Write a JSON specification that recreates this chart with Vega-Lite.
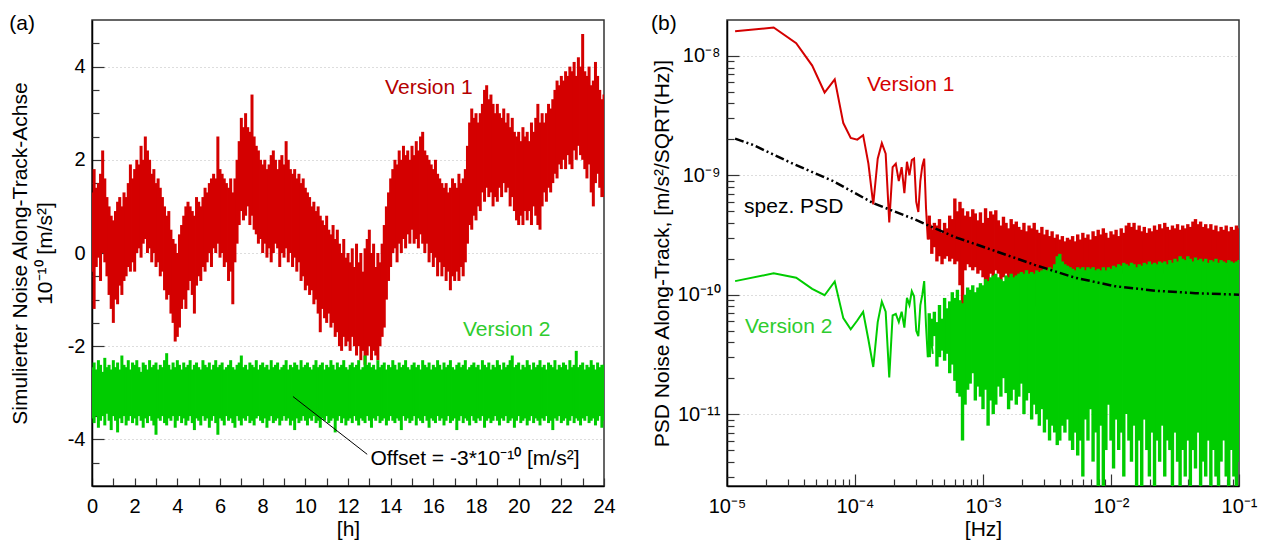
{
"$schema":"https://vega.github.io/schema/vega-lite/v6.json",
"background":"white",
"padding":{"left":8,"top":12,"right":0,"bottom":0},
"spacing":34,
"config":{
 "font":"Liberation Sans",
 "view":{"stroke":"#333","strokeWidth":1.5},
 "axis":{"labelFont":"Liberation Sans","labelFontSize":20,"labelColor":"black","titleFont":"Liberation Sans","titleFontSize":21,"titleFontWeight":"normal","titleColor":"black","domainColor":"black","domainWidth":1.5,"tickColor":"#333","tickWidth":1.2,"gridColor":"#bbb","gridDash":[1,3]},
 "title":{"anchor":"start","frame":"bounds","offset":-14,"fontSize":21,"fontWeight":"normal","font":"Liberation Sans","color":"black"}
},
"datasets":{
"ts":[
{"t":0,"rlo":-0.4,"rhi":1.3,"glo":-3.55,"ghi":-2.45},
{"t":0.1,"rlo":-1.2,"rhi":1.8,"glo":-3.65,"ghi":-2.35},
{"t":0.2,"rlo":-0.3,"rhi":1.4,"glo":-3.5,"ghi":-2.5},
{"t":0.3,"rlo":-0.1,"rhi":1.5,"glo":-3.75,"ghi":-2.3},
{"t":0.4,"rlo":-0.6,"rhi":1.7,"glo":-3.6,"ghi":-2.4},
{"t":0.5,"rlo":0.0,"rhi":2.2,"glo":-3.5,"ghi":-2.55},
{"t":0.6,"rlo":-0.2,"rhi":1.6,"glo":-3.7,"ghi":-2.25},
{"t":0.7,"rlo":-0.5,"rhi":1.2,"glo":-3.45,"ghi":-2.45},
{"t":0.8,"rlo":-0.9,"rhi":1.0,"glo":-3.6,"ghi":-2.4},
{"t":0.9,"rlo":-1.2,"rhi":0.8,"glo":-3.8,"ghi":-2.5},
{"t":1.0,"rlo":-1.5,"rhi":0.7,"glo":-3.5,"ghi":-2.3},
{"t":1.1,"rlo":-1.0,"rhi":0.9,"glo":-3.6,"ghi":-2.45},
{"t":1.2,"rlo":-1.1,"rhi":1.1,"glo":-3.85,"ghi":-2.35},
{"t":1.3,"rlo":-0.7,"rhi":1.2,"glo":-3.55,"ghi":-2.5},
{"t":1.4,"rlo":-0.9,"rhi":1.0,"glo":-3.65,"ghi":-2.2},
{"t":1.5,"rlo":-0.6,"rhi":1.3,"glo":-3.5,"ghi":-2.4},
{"t":1.6,"rlo":-0.5,"rhi":1.2,"glo":-3.7,"ghi":-2.45},
{"t":1.7,"rlo":-0.3,"rhi":1.5,"glo":-3.6,"ghi":-2.3},
{"t":1.8,"rlo":-0.4,"rhi":1.9,"glo":-3.5,"ghi":-2.5},
{"t":1.9,"rlo":-0.2,"rhi":1.6,"glo":-3.65,"ghi":-2.35},
{"t":2.0,"rlo":-0.4,"rhi":1.8,"glo":-3.55,"ghi":-2.4},
{"t":2.1,"rlo":0.0,"rhi":2.0,"glo":-3.7,"ghi":-2.3},
{"t":2.2,"rlo":0.1,"rhi":1.9,"glo":-3.5,"ghi":-2.45},
{"t":2.3,"rlo":-0.1,"rhi":2.3,"glo":-3.6,"ghi":-2.55},
{"t":2.4,"rlo":0.2,"rhi":2.0,"glo":-3.75,"ghi":-2.35},
{"t":2.5,"rlo":0.3,"rhi":2.5,"glo":-3.55,"ghi":-2.4},
{"t":2.6,"rlo":0.0,"rhi":2.2,"glo":-3.65,"ghi":-2.5},
{"t":2.7,"rlo":0.1,"rhi":2.0,"glo":-3.5,"ghi":-2.3},
{"t":2.8,"rlo":-0.2,"rhi":1.7,"glo":-3.6,"ghi":-2.45},
{"t":2.9,"rlo":0.0,"rhi":1.8,"glo":-3.7,"ghi":-2.4},
{"t":3.0,"rlo":-0.3,"rhi":1.5,"glo":-3.9,"ghi":-2.35},
{"t":3.1,"rlo":-0.2,"rhi":1.6,"glo":-3.55,"ghi":-2.5},
{"t":3.2,"rlo":-0.5,"rhi":1.4,"glo":-3.6,"ghi":-2.4},
{"t":3.3,"rlo":-0.4,"rhi":1.2,"glo":-3.5,"ghi":-2.45},
{"t":3.4,"rlo":-0.8,"rhi":1.0,"glo":-3.65,"ghi":-2.3},
{"t":3.5,"rlo":-1.0,"rhi":0.8,"glo":-3.7,"ghi":-2.15},
{"t":3.6,"rlo":-0.9,"rhi":0.9,"glo":-3.55,"ghi":-2.4},
{"t":3.7,"rlo":-1.3,"rhi":0.5,"glo":-3.6,"ghi":-2.5},
{"t":3.8,"rlo":-1.5,"rhi":0.3,"glo":-3.5,"ghi":-2.35},
{"t":3.9,"rlo":-1.9,"rhi":0.2,"glo":-3.75,"ghi":-2.45},
{"t":4.0,"rlo":-1.8,"rhi":0.0,"glo":-3.6,"ghi":-2.3},
{"t":4.1,"rlo":-1.6,"rhi":0.4,"glo":-3.5,"ghi":-2.4},
{"t":4.2,"rlo":-1.2,"rhi":0.6,"glo":-3.65,"ghi":-2.5},
{"t":4.3,"rlo":-1.0,"rhi":0.8,"glo":-3.55,"ghi":-2.35},
{"t":4.4,"rlo":-1.2,"rhi":1.0,"glo":-3.7,"ghi":-2.45},
{"t":4.5,"rlo":-0.8,"rhi":1.1,"glo":-3.6,"ghi":-2.4},
{"t":4.6,"rlo":-0.6,"rhi":1.0,"glo":-3.5,"ghi":-2.3},
{"t":4.7,"rlo":-0.9,"rhi":0.9,"glo":-3.65,"ghi":-2.5},
{"t":4.8,"rlo":-1.3,"rhi":0.8,"glo":-3.8,"ghi":-2.4},
{"t":4.9,"rlo":-0.7,"rhi":1.2,"glo":-3.55,"ghi":-2.35},
{"t":5.0,"rlo":-0.5,"rhi":1.1,"glo":-3.6,"ghi":-2.45},
{"t":5.1,"rlo":-0.6,"rhi":1.0,"glo":-3.7,"ghi":-2.5},
{"t":5.2,"rlo":-0.3,"rhi":1.2,"glo":-3.5,"ghi":-2.3},
{"t":5.3,"rlo":-0.4,"rhi":1.4,"glo":-3.6,"ghi":-2.4},
{"t":5.4,"rlo":-0.2,"rhi":1.3,"glo":-3.55,"ghi":-2.45},
{"t":5.5,"rlo":0.0,"rhi":1.5,"glo":-3.75,"ghi":-2.35},
{"t":5.6,"rlo":-0.3,"rhi":1.6,"glo":-3.6,"ghi":-2.5},
{"t":5.7,"rlo":0.1,"rhi":1.7,"glo":-3.5,"ghi":-2.4},
{"t":5.8,"rlo":0.0,"rhi":1.6,"glo":-3.65,"ghi":-2.3},
{"t":5.9,"rlo":0.2,"rhi":2.5,"glo":-3.9,"ghi":-2.45},
{"t":6.0,"rlo":-0.1,"rhi":1.8,"glo":-3.55,"ghi":-2.4},
{"t":6.1,"rlo":0.0,"rhi":1.7,"glo":-3.6,"ghi":-2.35},
{"t":6.2,"rlo":-0.3,"rhi":1.6,"glo":-3.7,"ghi":-2.5},
{"t":6.3,"rlo":-0.2,"rhi":1.5,"glo":-3.5,"ghi":-2.45},
{"t":6.4,"rlo":-0.6,"rhi":1.4,"glo":-3.6,"ghi":-2.4},
{"t":6.5,"rlo":-0.4,"rhi":1.6,"glo":-3.55,"ghi":-2.3},
{"t":6.6,"rlo":-1.1,"rhi":1.3,"glo":-3.65,"ghi":-2.45},
{"t":6.7,"rlo":-0.2,"rhi":1.6,"glo":-3.75,"ghi":-2.5},
{"t":6.8,"rlo":0.2,"rhi":2.0,"glo":-3.5,"ghi":-2.4},
{"t":6.9,"rlo":0.6,"rhi":2.4,"glo":-3.6,"ghi":-2.35},
{"t":7.0,"rlo":0.9,"rhi":2.9,"glo":-3.7,"ghi":-2.2},
{"t":7.1,"rlo":0.7,"rhi":2.7,"glo":-3.55,"ghi":-2.45},
{"t":7.2,"rlo":0.8,"rhi":3.0,"glo":-3.6,"ghi":-2.4},
{"t":7.3,"rlo":1.0,"rhi":2.7,"glo":-3.5,"ghi":-2.5},
{"t":7.4,"rlo":0.6,"rhi":2.6,"glo":-3.65,"ghi":-2.35},
{"t":7.5,"rlo":0.8,"rhi":3.4,"glo":-3.6,"ghi":-2.4},
{"t":7.6,"rlo":0.5,"rhi":2.5,"glo":-3.7,"ghi":-2.45},
{"t":7.7,"rlo":0.4,"rhi":2.3,"glo":-3.55,"ghi":-2.3},
{"t":7.8,"rlo":0.2,"rhi":2.2,"glo":-3.5,"ghi":-2.5},
{"t":7.9,"rlo":0.3,"rhi":2.0,"glo":-3.6,"ghi":-2.4},
{"t":8.0,"rlo":0.0,"rhi":1.9,"glo":-3.65,"ghi":-2.35},
{"t":8.1,"rlo":0.2,"rhi":2.0,"glo":-3.55,"ghi":-2.45},
{"t":8.2,"rlo":-0.1,"rhi":1.8,"glo":-3.75,"ghi":-2.4},
{"t":8.3,"rlo":0.1,"rhi":1.9,"glo":-3.6,"ghi":-2.5},
{"t":8.4,"rlo":-0.2,"rhi":2.1,"glo":-3.5,"ghi":-2.3},
{"t":8.5,"rlo":0.0,"rhi":2.2,"glo":-3.65,"ghi":-2.45},
{"t":8.6,"rlo":0.2,"rhi":2.0,"glo":-3.6,"ghi":-2.4},
{"t":8.7,"rlo":0.1,"rhi":1.8,"glo":-3.55,"ghi":-2.35},
{"t":8.8,"rlo":-0.3,"rhi":2.0,"glo":-3.7,"ghi":-2.5},
{"t":8.9,"rlo":0.0,"rhi":2.1,"glo":-3.6,"ghi":-2.45},
{"t":9.0,"rlo":-0.1,"rhi":1.9,"glo":-3.5,"ghi":-2.4},
{"t":9.1,"rlo":0.1,"rhi":2.4,"glo":-3.6,"ghi":-2.3},
{"t":9.2,"rlo":-0.2,"rhi":2.0,"glo":-3.55,"ghi":-2.5},
{"t":9.3,"rlo":0.0,"rhi":1.8,"glo":-3.7,"ghi":-2.4},
{"t":9.4,"rlo":-0.3,"rhi":1.7,"glo":-3.6,"ghi":-2.45},
{"t":9.5,"rlo":-0.1,"rhi":1.8,"glo":-3.8,"ghi":-2.35},
{"t":9.6,"rlo":-0.4,"rhi":1.6,"glo":-3.55,"ghi":-2.4},
{"t":9.7,"rlo":-0.2,"rhi":1.7,"glo":-3.65,"ghi":-2.5},
{"t":9.8,"rlo":-0.6,"rhi":1.5,"glo":-3.6,"ghi":-2.3},
{"t":9.9,"rlo":-0.5,"rhi":1.6,"glo":-3.5,"ghi":-2.45},
{"t":10.0,"rlo":-0.8,"rhi":1.4,"glo":-3.6,"ghi":-2.4},
{"t":10.1,"rlo":-0.7,"rhi":1.3,"glo":-3.7,"ghi":-2.35},
{"t":10.2,"rlo":-0.9,"rhi":1.2,"glo":-3.55,"ghi":-2.45},
{"t":10.3,"rlo":-0.8,"rhi":1.0,"glo":-3.6,"ghi":-2.5},
{"t":10.4,"rlo":-1.1,"rhi":1.1,"glo":-3.5,"ghi":-2.4},
{"t":10.5,"rlo":-1.0,"rhi":0.9,"glo":-3.65,"ghi":-2.3},
{"t":10.6,"rlo":-1.3,"rhi":1.0,"glo":-3.6,"ghi":-2.45},
{"t":10.7,"rlo":-1.7,"rhi":0.8,"glo":-3.75,"ghi":-2.4},
{"t":10.8,"rlo":-1.2,"rhi":0.7,"glo":-3.55,"ghi":-2.35},
{"t":10.9,"rlo":-1.4,"rhi":0.6,"glo":-3.6,"ghi":-2.5},
{"t":11.0,"rlo":-1.5,"rhi":0.8,"glo":-3.5,"ghi":-2.4},
{"t":11.1,"rlo":-1.3,"rhi":0.5,"glo":-3.65,"ghi":-2.45},
{"t":11.2,"rlo":-1.6,"rhi":0.4,"glo":-3.6,"ghi":-2.3},
{"t":11.3,"rlo":-1.5,"rhi":0.6,"glo":-3.55,"ghi":-2.4},
{"t":11.4,"rlo":-1.8,"rhi":0.3,"glo":-3.85,"ghi":-2.5},
{"t":11.5,"rlo":-1.7,"rhi":0.5,"glo":-3.6,"ghi":-2.35},
{"t":11.6,"rlo":-2.0,"rhi":0.2,"glo":-3.5,"ghi":-2.45},
{"t":11.7,"rlo":-2.1,"rhi":0.0,"glo":-3.65,"ghi":-2.4},
{"t":11.8,"rlo":-1.8,"rhi":0.3,"glo":-3.55,"ghi":-2.3},
{"t":11.9,"rlo":-2.0,"rhi":-0.1,"glo":-3.7,"ghi":-2.45},
{"t":12.0,"rlo":-1.9,"rhi":0.0,"glo":-3.6,"ghi":-2.5},
{"t":12.1,"rlo":-2.1,"rhi":-0.2,"glo":-3.55,"ghi":-2.4},
{"t":12.2,"rlo":-1.8,"rhi":0.1,"glo":-3.65,"ghi":-2.35},
{"t":12.3,"rlo":-2.0,"rhi":-0.3,"glo":-3.5,"ghi":-2.45},
{"t":12.4,"rlo":-2.2,"rhi":0.2,"glo":-3.6,"ghi":-2.4},
{"t":12.5,"rlo":-2.0,"rhi":-0.2,"glo":-3.7,"ghi":-2.3},
{"t":12.6,"rlo":-2.3,"rhi":0.0,"glo":-3.55,"ghi":-2.5},
{"t":12.7,"rlo":-2.1,"rhi":-0.4,"glo":-3.6,"ghi":-2.45},
{"t":12.8,"rlo":-2.4,"rhi":0.1,"glo":-3.65,"ghi":-2.2},
{"t":12.9,"rlo":-2.2,"rhi":0.3,"glo":-3.5,"ghi":-2.4},
{"t":13.0,"rlo":-2.0,"rhi":0.5,"glo":-3.6,"ghi":-2.35},
{"t":13.1,"rlo":-2.3,"rhi":0.0,"glo":-3.75,"ghi":-2.45},
{"t":13.2,"rlo":-2.1,"rhi":0.2,"glo":-3.55,"ghi":-2.4},
{"t":13.3,"rlo":-2.2,"rhi":-0.3,"glo":-3.6,"ghi":-2.5},
{"t":13.4,"rlo":-2.3,"rhi":0.0,"glo":-3.5,"ghi":-2.3},
{"t":13.5,"rlo":-2.0,"rhi":-0.2,"glo":-3.65,"ghi":-2.45},
{"t":13.6,"rlo":-1.8,"rhi":0.2,"glo":-3.6,"ghi":-2.4},
{"t":13.7,"rlo":-1.6,"rhi":0.6,"glo":-3.55,"ghi":-2.35},
{"t":13.8,"rlo":-1.0,"rhi":1.0,"glo":-3.7,"ghi":-2.5},
{"t":13.9,"rlo":-0.6,"rhi":1.3,"glo":-3.6,"ghi":-2.4},
{"t":14.0,"rlo":-0.3,"rhi":1.6,"glo":-3.5,"ghi":-2.45},
{"t":14.1,"rlo":0.0,"rhi":1.8,"glo":-3.6,"ghi":-2.3},
{"t":14.2,"rlo":0.1,"rhi":2.0,"glo":-3.65,"ghi":-2.4},
{"t":14.3,"rlo":-0.2,"rhi":1.9,"glo":-3.55,"ghi":-2.5},
{"t":14.4,"rlo":0.2,"rhi":2.2,"glo":-3.6,"ghi":-2.35},
{"t":14.5,"rlo":0.0,"rhi":2.0,"glo":-3.8,"ghi":-2.45},
{"t":14.6,"rlo":0.3,"rhi":2.3,"glo":-3.5,"ghi":-2.4},
{"t":14.7,"rlo":0.1,"rhi":2.1,"glo":-3.6,"ghi":-2.3},
{"t":14.8,"rlo":0.4,"rhi":2.2,"glo":-3.55,"ghi":-2.45},
{"t":14.9,"rlo":0.2,"rhi":2.0,"glo":-3.65,"ghi":-2.5},
{"t":15.0,"rlo":0.5,"rhi":2.3,"glo":-3.6,"ghi":-2.4},
{"t":15.1,"rlo":0.2,"rhi":2.1,"glo":-3.5,"ghi":-2.35},
{"t":15.2,"rlo":0.3,"rhi":2.4,"glo":-3.7,"ghi":-2.45},
{"t":15.3,"rlo":0.1,"rhi":2.2,"glo":-3.55,"ghi":-2.4},
{"t":15.4,"rlo":0.4,"rhi":2.5,"glo":-3.6,"ghi":-2.5},
{"t":15.5,"rlo":0.2,"rhi":2.6,"glo":-3.65,"ghi":-2.3},
{"t":15.6,"rlo":0.0,"rhi":2.2,"glo":-3.5,"ghi":-2.4},
{"t":15.7,"rlo":0.2,"rhi":2.1,"glo":-3.6,"ghi":-2.45},
{"t":15.8,"rlo":-0.2,"rhi":2.0,"glo":-3.75,"ghi":-2.35},
{"t":15.9,"rlo":0.0,"rhi":1.9,"glo":-3.55,"ghi":-2.5},
{"t":16.0,"rlo":-0.3,"rhi":1.8,"glo":-3.6,"ghi":-2.4},
{"t":16.1,"rlo":-0.1,"rhi":2.0,"glo":-3.65,"ghi":-2.45},
{"t":16.2,"rlo":-0.5,"rhi":1.7,"glo":-3.5,"ghi":-2.3},
{"t":16.3,"rlo":-0.2,"rhi":1.6,"glo":-3.6,"ghi":-2.4},
{"t":16.4,"rlo":-0.5,"rhi":1.5,"glo":-3.55,"ghi":-2.5},
{"t":16.5,"rlo":-0.3,"rhi":1.4,"glo":-3.7,"ghi":-2.35},
{"t":16.6,"rlo":-0.6,"rhi":1.5,"glo":-3.6,"ghi":-2.45},
{"t":16.7,"rlo":-0.4,"rhi":1.3,"glo":-3.5,"ghi":-2.4},
{"t":16.8,"rlo":-0.8,"rhi":1.4,"glo":-3.65,"ghi":-2.3},
{"t":16.9,"rlo":-0.5,"rhi":1.6,"glo":-3.6,"ghi":-2.45},
{"t":17.0,"rlo":-0.6,"rhi":1.5,"glo":-3.55,"ghi":-2.5},
{"t":17.1,"rlo":-0.4,"rhi":1.4,"glo":-3.8,"ghi":-2.4},
{"t":17.2,"rlo":-0.6,"rhi":1.7,"glo":-3.6,"ghi":-2.35},
{"t":17.3,"rlo":-0.3,"rhi":1.5,"glo":-3.5,"ghi":-2.45},
{"t":17.4,"rlo":-0.5,"rhi":1.6,"glo":-3.65,"ghi":-2.4},
{"t":17.5,"rlo":-0.2,"rhi":1.8,"glo":-3.55,"ghi":-2.3},
{"t":17.6,"rlo":0.2,"rhi":2.3,"glo":-3.6,"ghi":-2.5},
{"t":17.7,"rlo":0.6,"rhi":2.8,"glo":-3.7,"ghi":-2.45},
{"t":17.8,"rlo":0.5,"rhi":3.1,"glo":-3.5,"ghi":-2.4},
{"t":17.9,"rlo":0.8,"rhi":2.9,"glo":-3.6,"ghi":-2.35},
{"t":18.0,"rlo":0.7,"rhi":3.0,"glo":-3.65,"ghi":-2.45},
{"t":18.1,"rlo":1.0,"rhi":2.8,"glo":-3.55,"ghi":-2.4},
{"t":18.2,"rlo":0.9,"rhi":3.0,"glo":-3.6,"ghi":-2.5},
{"t":18.3,"rlo":1.3,"rhi":3.2,"glo":-3.5,"ghi":-2.3},
{"t":18.4,"rlo":1.1,"rhi":3.5,"glo":-3.75,"ghi":-2.4},
{"t":18.5,"rlo":1.4,"rhi":3.6,"glo":-3.6,"ghi":-2.45},
{"t":18.6,"rlo":1.2,"rhi":3.3,"glo":-3.55,"ghi":-2.35},
{"t":18.7,"rlo":1.3,"rhi":3.4,"glo":-3.65,"ghi":-2.5},
{"t":18.8,"rlo":1.0,"rhi":3.2,"glo":-3.6,"ghi":-2.4},
{"t":18.9,"rlo":1.2,"rhi":3.0,"glo":-3.5,"ghi":-2.45},
{"t":19.0,"rlo":1.1,"rhi":3.2,"glo":-3.6,"ghi":-2.3},
{"t":19.1,"rlo":1.4,"rhi":3.0,"glo":-3.7,"ghi":-2.4},
{"t":19.2,"rlo":1.2,"rhi":2.9,"glo":-3.55,"ghi":-2.5},
{"t":19.3,"rlo":1.5,"rhi":3.1,"glo":-3.6,"ghi":-2.35},
{"t":19.4,"rlo":1.3,"rhi":2.8,"glo":-3.5,"ghi":-2.45},
{"t":19.5,"rlo":1.4,"rhi":3.0,"glo":-3.65,"ghi":-2.4},
{"t":19.6,"rlo":1.0,"rhi":2.7,"glo":-3.6,"ghi":-2.3},
{"t":19.7,"rlo":1.2,"rhi":2.9,"glo":-3.55,"ghi":-2.2},
{"t":19.8,"rlo":0.9,"rhi":2.6,"glo":-3.75,"ghi":-2.45},
{"t":19.9,"rlo":0.7,"rhi":2.5,"glo":-3.6,"ghi":-2.4},
{"t":20.0,"rlo":0.6,"rhi":2.6,"glo":-3.5,"ghi":-2.35},
{"t":20.1,"rlo":0.8,"rhi":2.4,"glo":-3.65,"ghi":-2.5},
{"t":20.2,"rlo":0.6,"rhi":2.7,"glo":-3.6,"ghi":-2.4},
{"t":20.3,"rlo":0.9,"rhi":2.5,"glo":-3.55,"ghi":-2.45},
{"t":20.4,"rlo":0.7,"rhi":2.6,"glo":-3.7,"ghi":-2.3},
{"t":20.5,"rlo":0.9,"rhi":2.4,"glo":-3.6,"ghi":-2.4},
{"t":20.6,"rlo":0.6,"rhi":2.8,"glo":-3.5,"ghi":-2.5},
{"t":20.7,"rlo":1.0,"rhi":2.6,"glo":-3.65,"ghi":-2.35},
{"t":20.8,"rlo":0.8,"rhi":2.9,"glo":-3.55,"ghi":-2.45},
{"t":20.9,"rlo":0.6,"rhi":3.2,"glo":-3.6,"ghi":-2.4},
{"t":21.0,"rlo":0.5,"rhi":2.8,"glo":-3.7,"ghi":-2.3},
{"t":21.1,"rlo":1.0,"rhi":3.0,"glo":-3.55,"ghi":-2.45},
{"t":21.2,"rlo":1.3,"rhi":2.8,"glo":-3.6,"ghi":-2.4},
{"t":21.3,"rlo":1.1,"rhi":3.0,"glo":-3.5,"ghi":-2.5},
{"t":21.4,"rlo":1.4,"rhi":3.2,"glo":-3.65,"ghi":-2.35},
{"t":21.5,"rlo":1.3,"rhi":3.1,"glo":-3.6,"ghi":-2.4},
{"t":21.6,"rlo":1.5,"rhi":3.3,"glo":-3.8,"ghi":-2.45},
{"t":21.7,"rlo":1.7,"rhi":3.5,"glo":-3.55,"ghi":-2.3},
{"t":21.8,"rlo":1.6,"rhi":3.7,"glo":-3.6,"ghi":-2.5},
{"t":21.9,"rlo":1.9,"rhi":3.6,"glo":-3.5,"ghi":-2.4},
{"t":22.0,"rlo":1.8,"rhi":3.8,"glo":-3.65,"ghi":-2.45},
{"t":22.1,"rlo":2.0,"rhi":3.7,"glo":-3.6,"ghi":-2.35},
{"t":22.2,"rlo":1.8,"rhi":3.9,"glo":-3.55,"ghi":-2.4},
{"t":22.3,"rlo":2.1,"rhi":3.8,"glo":-3.7,"ghi":-2.5},
{"t":22.4,"rlo":1.9,"rhi":4.0,"glo":-3.6,"ghi":-2.3},
{"t":22.5,"rlo":1.8,"rhi":3.9,"glo":-3.5,"ghi":-2.45},
{"t":22.6,"rlo":2.2,"rhi":4.1,"glo":-3.65,"ghi":-2.4},
{"t":22.7,"rlo":2.0,"rhi":3.8,"glo":-3.55,"ghi":-2.1},
{"t":22.8,"rlo":2.3,"rhi":4.2,"glo":-3.6,"ghi":-2.45},
{"t":22.9,"rlo":2.1,"rhi":4.0,"glo":-3.7,"ghi":-2.4},
{"t":23.0,"rlo":2.0,"rhi":4.7,"glo":-3.55,"ghi":-2.35},
{"t":23.1,"rlo":1.8,"rhi":3.9,"glo":-3.6,"ghi":-2.5},
{"t":23.2,"rlo":1.6,"rhi":3.8,"glo":-3.5,"ghi":-2.4},
{"t":23.3,"rlo":1.9,"rhi":4.0,"glo":-3.65,"ghi":-2.45},
{"t":23.4,"rlo":1.3,"rhi":3.6,"glo":-3.6,"ghi":-2.3},
{"t":23.5,"rlo":1.0,"rhi":3.7,"glo":-3.55,"ghi":-2.4},
{"t":23.6,"rlo":1.5,"rhi":4.1,"glo":-3.7,"ghi":-2.5},
{"t":23.7,"rlo":1.7,"rhi":3.8,"glo":-3.6,"ghi":-2.35},
{"t":23.8,"rlo":1.4,"rhi":3.5,"glo":-3.5,"ghi":-2.45},
{"t":23.9,"rlo":1.2,"rhi":3.3,"glo":-3.75,"ghi":-2.4},
{"t":24.0,"rlo":1.2,"rhi":3.4,"glo":-3.6,"ghi":-2.4}
],
"psdlow":[
{"f":1.157e-5,"r":1.61e-8,"g":1.3e-10},
{"f":2.315e-5,"r":1.73e-8,"g":1.51e-10},
{"f":3.472e-5,"r":1.28e-8,"g":1.39e-10},
{"f":4.630e-5,"r":8.3e-9,"g":1.12e-10},
{"f":5.787e-5,"r":4.94e-9,"g":9.9e-11},
{"f":6.944e-5,"r":6.37e-9,"g":1.29e-10},
{"f":8.102e-5,"r":2.74e-9,"g":6.37e-11},
{"f":9.259e-5,"r":2.06e-9,"g":5.14e-11},
{"f":1.0417e-4,"r":1.99e-9,"g":6.08e-11},
{"f":1.1574e-4,"r":2.17e-9,"g":7.18e-11},
{"f":1.2731e-4,"r":1.25e-9,"g":4.2e-11},
{"f":1.3889e-4,"r":5.7e-10,"g":2.48e-11},
{"f":1.5046e-4,"r":1.38e-9,"g":5.9e-11},
{"f":1.6204e-4,"r":1.86e-9,"g":8.75e-11},
{"f":1.7361e-4,"r":1.52e-9,"g":7.2e-11},
{"f":1.8519e-4,"r":4.04e-10,"g":2.03e-11},
{"f":1.9676e-4,"r":1.17e-9,"g":6.7e-11},
{"f":2.0833e-4,"r":1.25e-9,"g":6.9e-11},
{"f":2.1991e-4,"r":8.95e-10,"g":5.9e-11},
{"f":2.3148e-4,"r":1.17e-9,"g":7.2e-11},
{"f":2.4306e-4,"r":7.1e-10,"g":5.3e-11},
{"f":2.5463e-4,"r":1.3e-9,"g":9.4e-11},
{"f":2.6620e-4,"r":1.0e-9,"g":8.2e-11},
{"f":2.7778e-4,"r":1.34e-9,"g":1.07e-10},
{"f":2.8935e-4,"r":1.38e-9,"g":9.7e-11},
{"f":3.0093e-4,"r":6.0e-10,"g":5.0e-11},
{"f":3.1250e-4,"r":4.93e-10,"g":4.5e-11},
{"f":3.2407e-4,"r":9.0e-10,"g":8.2e-11},
{"f":3.3565e-4,"r":1.2e-9,"g":1.0e-10},
{"f":3.4722e-4,"r":1.38e-9,"g":1.3e-10},
{"f":3.5880e-4,"r":5.3e-10,"g":5.5e-11},
{"f":3.7037e-4,"r":2.9e-10,"g":3.0e-11},
{"f":3.8194e-4,"r":4.0e-10,"g":4.7e-11},
{"f":3.9352e-4,"r":3.7e-10,"g":4.2e-11},
{"f":4.0509e-4,"r":2.9e-10,"g":3.2e-11}
],
"psddense":[
{"f":3.802e-4,"rlo":2.9e-10,"rhi":4.6e-10,"glo":3.0e-11,"ghi":7.0e-11},
{"f":3.981e-4,"rlo":2.2e-10,"rhi":3.5e-10,"glo":3.7e-11,"ghi":6.3e-11},
{"f":4.169e-4,"rlo":2.5e-10,"rhi":4.0e-10,"glo":4.5e-11,"ghi":7.2e-11},
{"f":4.365e-4,"rlo":1.9e-10,"rhi":3.8e-10,"glo":2.5e-11,"ghi":5.9e-11},
{"f":4.571e-4,"rlo":2.1e-10,"rhi":4.3e-10,"glo":3.0e-11,"ghi":8.2e-11},
{"f":4.786e-4,"rlo":1.8e-10,"rhi":3.3e-10,"glo":3.4e-11,"ghi":6.3e-11},
{"f":5.012e-4,"rlo":2.0e-10,"rhi":4.0e-10,"glo":2.8e-11,"ghi":9.4e-11},
{"f":5.248e-4,"rlo":2.1e-10,"rhi":3.6e-10,"glo":3.2e-11,"ghi":7.7e-11},
{"f":5.495e-4,"rlo":1.9e-10,"rhi":4.6e-10,"glo":2.2e-11,"ghi":8.8e-11},
{"f":5.754e-4,"rlo":2.0e-10,"rhi":4.3e-10,"glo":2.6e-11,"ghi":1.05e-10},
{"f":6.026e-4,"rlo":1.8e-10,"rhi":6.4e-10,"glo":1.9e-11,"ghi":9.4e-11},
{"f":6.310e-4,"rlo":1.9e-10,"rhi":5.0e-10,"glo":1.5e-11,"ghi":1.1e-10},
{"f":6.607e-4,"rlo":1.2e-10,"rhi":6.0e-10,"glo":1.4e-11,"ghi":9.0e-11},
{"f":6.918e-4,"rlo":8.0e-11,"rhi":5.3e-10,"glo":6.0e-12,"ghi":8.5e-11},
{"f":7.244e-4,"rlo":1.6e-10,"rhi":4.6e-10,"glo":1.2e-11,"ghi":1.0e-10},
{"f":7.586e-4,"rlo":1.8e-10,"rhi":5.0e-10,"glo":1.6e-11,"ghi":1.15e-10},
{"f":7.943e-4,"rlo":1.7e-10,"rhi":4.5e-10,"glo":1.8e-11,"ghi":1.1e-10},
{"f":8.318e-4,"rlo":1.6e-10,"rhi":5.2e-10,"glo":2.2e-11,"ghi":1.2e-10},
{"f":8.710e-4,"rlo":1.7e-10,"rhi":4.8e-10,"glo":1.3e-11,"ghi":1.05e-10},
{"f":9.120e-4,"rlo":1.5e-10,"rhi":4.2e-10,"glo":1.7e-11,"ghi":1.15e-10},
{"f":9.550e-4,"rlo":1.6e-10,"rhi":4.9e-10,"glo":1.4e-11,"ghi":1.25e-10},
{"f":1.000e-3,"rlo":1.4e-10,"rhi":4.0e-10,"glo":1.1e-11,"ghi":1.2e-10},
{"f":1.047e-3,"rlo":1.1e-10,"rhi":5.3e-10,"glo":1.6e-11,"ghi":1.35e-10},
{"f":1.096e-3,"rlo":5.0e-11,"rhi":4.4e-10,"glo":8.0e-12,"ghi":1.3e-10},
{"f":1.148e-3,"rlo":1.5e-10,"rhi":5.0e-10,"glo":1.3e-11,"ghi":1.4e-10},
{"f":1.202e-3,"rlo":1.4e-10,"rhi":4.7e-10,"glo":1.0e-11,"ghi":1.45e-10},
{"f":1.259e-3,"rlo":1.6e-10,"rhi":5.1e-10,"glo":1.2e-11,"ghi":1.5e-10},
{"f":1.318e-3,"rlo":1.5e-10,"rhi":4.2e-10,"glo":1.7e-11,"ghi":1.4e-10},
{"f":1.380e-3,"rlo":1.3e-10,"rhi":3.8e-10,"glo":1.4e-11,"ghi":1.35e-10},
{"f":1.445e-3,"rlo":1.4e-10,"rhi":4.5e-10,"glo":2.0e-11,"ghi":1.3e-10},
{"f":1.514e-3,"rlo":1.5e-10,"rhi":4.0e-10,"glo":1.5e-11,"ghi":1.45e-10},
{"f":1.585e-3,"rlo":1.3e-10,"rhi":3.6e-10,"glo":1.1e-11,"ghi":1.4e-10},
{"f":1.660e-3,"rlo":1.4e-10,"rhi":4.3e-10,"glo":1.3e-11,"ghi":1.5e-10},
{"f":1.738e-3,"rlo":1.2e-10,"rhi":3.9e-10,"glo":1.6e-11,"ghi":1.4e-10},
{"f":1.820e-3,"rlo":1.4e-10,"rhi":4.1e-10,"glo":1.2e-11,"ghi":1.45e-10},
{"f":1.905e-3,"rlo":1.3e-10,"rhi":3.7e-10,"glo":1.4e-11,"ghi":1.5e-10},
{"f":1.995e-3,"rlo":1.5e-10,"rhi":3.5e-10,"glo":1.8e-11,"ghi":1.55e-10},
{"f":2.089e-3,"rlo":1.3e-10,"rhi":4.0e-10,"glo":1.0e-11,"ghi":1.5e-10},
{"f":2.188e-3,"rlo":1.4e-10,"rhi":3.4e-10,"glo":1.3e-11,"ghi":1.6e-10},
{"f":2.291e-3,"rlo":1.3e-10,"rhi":3.8e-10,"glo":1.5e-11,"ghi":1.5e-10},
{"f":2.399e-3,"rlo":1.4e-10,"rhi":3.6e-10,"glo":9.0e-12,"ghi":1.55e-10},
{"f":2.512e-3,"rlo":8.0e-11,"rhi":4.0e-10,"glo":1.2e-11,"ghi":1.5e-10},
{"f":2.630e-3,"rlo":1.4e-10,"rhi":3.5e-10,"glo":1.0e-11,"ghi":1.6e-10},
{"f":2.754e-3,"rlo":1.3e-10,"rhi":3.3e-10,"glo":8.0e-12,"ghi":1.55e-10},
{"f":2.884e-3,"rlo":1.5e-10,"rhi":3.7e-10,"glo":1.1e-11,"ghi":1.6e-10},
{"f":3.020e-3,"rlo":1.4e-10,"rhi":3.2e-10,"glo":7.0e-12,"ghi":1.65e-10},
{"f":3.162e-3,"rlo":1.5e-10,"rhi":3.5e-10,"glo":9.0e-12,"ghi":1.6e-10},
{"f":3.311e-3,"rlo":1.4e-10,"rhi":3.1e-10,"glo":6.0e-12,"ghi":1.7e-10},
{"f":3.467e-3,"rlo":1.5e-10,"rhi":3.4e-10,"glo":8.0e-12,"ghi":1.65e-10},
{"f":3.631e-3,"rlo":1.4e-10,"rhi":3.0e-10,"glo":7.0e-12,"ghi":1.8e-10},
{"f":3.802e-3,"rlo":1.5e-10,"rhi":3.2e-10,"glo":5.5e-12,"ghi":2.1e-10},
{"f":3.981e-3,"rlo":1.4e-10,"rhi":2.9e-10,"glo":6.0e-12,"ghi":2.2e-10},
{"f":4.169e-3,"rlo":1.5e-10,"rhi":3.1e-10,"glo":8.0e-12,"ghi":1.9e-10},
{"f":4.365e-3,"rlo":1.5e-10,"rhi":2.8e-10,"glo":7.0e-12,"ghi":1.8e-10},
{"f":4.571e-3,"rlo":1.4e-10,"rhi":3.0e-10,"glo":9.0e-12,"ghi":1.75e-10},
{"f":4.786e-3,"rlo":1.6e-10,"rhi":2.9e-10,"glo":6.0e-12,"ghi":1.7e-10},
{"f":5.012e-3,"rlo":1.5e-10,"rhi":3.1e-10,"glo":5.0e-12,"ghi":1.65e-10},
{"f":5.248e-3,"rlo":1.5e-10,"rhi":2.8e-10,"glo":7.0e-12,"ghi":1.6e-10},
{"f":5.495e-3,"rlo":1.6e-10,"rhi":3.2e-10,"glo":4.5e-12,"ghi":1.7e-10},
{"f":5.754e-3,"rlo":1.5e-10,"rhi":2.9e-10,"glo":6.0e-12,"ghi":1.65e-10},
{"f":6.026e-3,"rlo":1.6e-10,"rhi":3.3e-10,"glo":3.0e-12,"ghi":1.7e-10},
{"f":6.310e-3,"rlo":1.5e-10,"rhi":3.0e-10,"glo":9.0e-12,"ghi":1.6e-10},
{"f":6.607e-3,"rlo":1.6e-10,"rhi":3.2e-10,"glo":6.0e-12,"ghi":1.7e-10},
{"f":6.918e-3,"rlo":1.5e-10,"rhi":2.9e-10,"glo":1.1e-11,"ghi":1.65e-10},
{"f":7.244e-3,"rlo":1.6e-10,"rhi":3.4e-10,"glo":4.0e-12,"ghi":1.7e-10},
{"f":7.586e-3,"rlo":1.5e-10,"rhi":3.1e-10,"glo":7.0e-12,"ghi":1.6e-10},
{"f":7.943e-3,"rlo":1.6e-10,"rhi":3.5e-10,"glo":2.0e-12,"ghi":1.65e-10},
{"f":8.318e-3,"rlo":1.5e-10,"rhi":3.2e-10,"glo":8.0e-12,"ghi":1.6e-10},
{"f":8.710e-3,"rlo":1.6e-10,"rhi":3.6e-10,"glo":2.0e-12,"ghi":1.7e-10},
{"f":9.120e-3,"rlo":1.5e-10,"rhi":3.3e-10,"glo":5.0e-12,"ghi":1.6e-10},
{"f":9.550e-3,"rlo":1.6e-10,"rhi":3.0e-10,"glo":1.2e-11,"ghi":1.7e-10},
{"f":1.000e-2,"rlo":1.5e-10,"rhi":3.4e-10,"glo":6.0e-12,"ghi":1.65e-10},
{"f":1.047e-2,"rlo":1.6e-10,"rhi":3.2e-10,"glo":3.5e-12,"ghi":1.75e-10},
{"f":1.096e-2,"rlo":1.5e-10,"rhi":3.5e-10,"glo":9.0e-12,"ghi":1.7e-10},
{"f":1.148e-2,"rlo":1.6e-10,"rhi":3.1e-10,"glo":5.0e-12,"ghi":1.8e-10},
{"f":1.202e-2,"rlo":1.5e-10,"rhi":3.6e-10,"glo":7.0e-12,"ghi":1.75e-10},
{"f":1.259e-2,"rlo":1.6e-10,"rhi":3.3e-10,"glo":3.0e-12,"ghi":1.85e-10},
{"f":1.318e-2,"rlo":1.5e-10,"rhi":3.8e-10,"glo":1.0e-11,"ghi":1.8e-10},
{"f":1.380e-2,"rlo":1.6e-10,"rhi":4.0e-10,"glo":6.0e-12,"ghi":1.75e-10},
{"f":1.445e-2,"rlo":1.5e-10,"rhi":3.7e-10,"glo":4.0e-12,"ghi":1.85e-10},
{"f":1.514e-2,"rlo":1.6e-10,"rhi":4.0e-10,"glo":8.0e-12,"ghi":1.8e-10},
{"f":1.585e-2,"rlo":1.5e-10,"rhi":3.5e-10,"glo":2.0e-12,"ghi":1.7e-10},
{"f":1.660e-2,"rlo":1.6e-10,"rhi":3.8e-10,"glo":6.0e-12,"ghi":1.8e-10},
{"f":1.738e-2,"rlo":1.5e-10,"rhi":3.4e-10,"glo":2.0e-12,"ghi":1.75e-10},
{"f":1.820e-2,"rlo":1.6e-10,"rhi":3.7e-10,"glo":9.0e-12,"ghi":1.85e-10},
{"f":1.905e-2,"rlo":1.5e-10,"rhi":3.3e-10,"glo":5.0e-12,"ghi":1.8e-10},
{"f":1.995e-2,"rlo":1.6e-10,"rhi":3.6e-10,"glo":3.0e-12,"ghi":1.9e-10},
{"f":2.089e-2,"rlo":1.5e-10,"rhi":3.4e-10,"glo":7.0e-12,"ghi":1.8e-10},
{"f":2.188e-2,"rlo":1.6e-10,"rhi":3.8e-10,"glo":2.0e-12,"ghi":1.85e-10},
{"f":2.291e-2,"rlo":1.5e-10,"rhi":3.5e-10,"glo":6.0e-12,"ghi":1.8e-10},
{"f":2.399e-2,"rlo":1.6e-10,"rhi":3.9e-10,"glo":4.0e-12,"ghi":1.9e-10},
{"f":2.512e-2,"rlo":1.5e-10,"rhi":3.6e-10,"glo":8.0e-12,"ghi":1.85e-10},
{"f":2.630e-2,"rlo":1.6e-10,"rhi":4.0e-10,"glo":3.0e-12,"ghi":1.9e-10},
{"f":2.754e-2,"rlo":1.5e-10,"rhi":3.7e-10,"glo":6.0e-12,"ghi":1.8e-10},
{"f":2.884e-2,"rlo":1.6e-10,"rhi":3.5e-10,"glo":5.0e-12,"ghi":1.95e-10},
{"f":3.020e-2,"rlo":1.5e-10,"rhi":3.8e-10,"glo":2.0e-12,"ghi":1.85e-10},
{"f":3.162e-2,"rlo":1.6e-10,"rhi":3.6e-10,"glo":7.0e-12,"ghi":2.0e-10},
{"f":3.311e-2,"rlo":1.5e-10,"rhi":3.9e-10,"glo":4.0e-12,"ghi":1.9e-10},
{"f":3.467e-2,"rlo":1.6e-10,"rhi":3.5e-10,"glo":2.0e-12,"ghi":2.1e-10},
{"f":3.631e-2,"rlo":1.5e-10,"rhi":3.8e-10,"glo":5.0e-12,"ghi":2.0e-10},
{"f":3.802e-2,"rlo":1.6e-10,"rhi":3.6e-10,"glo":3.0e-12,"ghi":1.95e-10},
{"f":3.981e-2,"rlo":1.5e-10,"rhi":3.9e-10,"glo":6.0e-12,"ghi":2.1e-10},
{"f":4.169e-2,"rlo":1.6e-10,"rhi":3.7e-10,"glo":2.0e-12,"ghi":2.0e-10},
{"f":4.365e-2,"rlo":1.5e-10,"rhi":4.1e-10,"glo":5.0e-12,"ghi":1.9e-10},
{"f":4.571e-2,"rlo":1.6e-10,"rhi":4.3e-10,"glo":3.5e-12,"ghi":2.05e-10},
{"f":4.786e-2,"rlo":1.5e-10,"rhi":3.9e-10,"glo":7.0e-12,"ghi":1.95e-10},
{"f":5.012e-2,"rlo":1.6e-10,"rhi":4.1e-10,"glo":2.0e-12,"ghi":2.0e-10},
{"f":5.248e-2,"rlo":1.5e-10,"rhi":3.7e-10,"glo":4.0e-12,"ghi":1.9e-10},
{"f":5.495e-2,"rlo":1.6e-10,"rhi":3.9e-10,"glo":3.0e-12,"ghi":2.0e-10},
{"f":5.754e-2,"rlo":1.5e-10,"rhi":3.6e-10,"glo":6.0e-12,"ghi":1.85e-10},
{"f":6.026e-2,"rlo":1.6e-10,"rhi":3.9e-10,"glo":2.0e-12,"ghi":1.95e-10},
{"f":6.310e-2,"rlo":1.5e-10,"rhi":3.5e-10,"glo":5.0e-12,"ghi":1.9e-10},
{"f":6.607e-2,"rlo":1.6e-10,"rhi":3.8e-10,"glo":3.0e-12,"ghi":2.0e-10},
{"f":6.918e-2,"rlo":1.5e-10,"rhi":3.4e-10,"glo":2.0e-12,"ghi":1.85e-10},
{"f":7.244e-2,"rlo":1.6e-10,"rhi":3.7e-10,"glo":4.0e-12,"ghi":1.95e-10},
{"f":7.586e-2,"rlo":1.5e-10,"rhi":3.5e-10,"glo":6.0e-12,"ghi":1.9e-10},
{"f":7.943e-2,"rlo":1.6e-10,"rhi":3.8e-10,"glo":3.0e-12,"ghi":1.85e-10},
{"f":8.318e-2,"rlo":1.5e-10,"rhi":3.4e-10,"glo":2.0e-12,"ghi":1.95e-10},
{"f":8.710e-2,"rlo":1.6e-10,"rhi":3.7e-10,"glo":5.0e-12,"ghi":1.9e-10},
{"f":9.120e-2,"rlo":1.5e-10,"rhi":3.5e-10,"glo":3.0e-12,"ghi":1.85e-10},
{"f":9.550e-2,"rlo":1.6e-10,"rhi":3.8e-10,"glo":2.0e-12,"ghi":1.9e-10},
{"f":1.000e-1,"rlo":1.5e-10,"rhi":3.6e-10,"glo":4.0e-12,"ghi":1.95e-10}
],
"spec":[
{"f":1.157e-5,"s":2.03e-9},
{"f":1.59e-5,"s":1.80e-9},
{"f":3.28e-5,"s":1.25e-9},
{"f":6.76e-5,"s":8.95e-10},
{"f":1.40e-4,"s":5.82e-10},
{"f":2.88e-4,"s":4.31e-10},
{"f":5.94e-4,"s":3.06e-10},
{"f":1.22e-3,"s":2.34e-10},
{"f":2.53e-3,"s":1.78e-10},
{"f":5.21e-3,"s":1.39e-10},
{"f":1.07e-2,"s":1.18e-10},
{"f":2.22e-2,"s":1.08e-10},
{"f":4.57e-2,"s":1.03e-10},
{"f":1.0e-1,"s":1.0e-10}
]
},
"hconcat":[
{
 "width":512,"height":466,
 "title":{"text":"(a)"},
 "resolve":{"axis":{"x":"independent","y":"independent"}},
 "layer":[
  {"data":{"name":"ts"},
   "mark":{"type":"rule","color":"#d40000","strokeWidth":3,"clip":true},
   "encoding":{
    "x":{"field":"t","type":"quantitative","scale":{"domain":[0,24],"nice":false,"zero":false},
     "axis":{"orient":"bottom","title":"[h]","values":[0,1,2,3,4,5,6,7,8,9,10,11,12,13,14,15,16,17,18,19,20,21,22,23,24],"labelExpr":"datum.value % 2 == 0 ? datum.label : ''","tickSize":-8,"labelPadding":18,"labelFlush":false,"labelOverlap":false,"grid":false,"titlePadding":2}},
    "y":{"field":"rlo","type":"quantitative","scale":{"domain":[-5,5],"nice":false,"zero":false},
     "axis":{"orient":"left","title":["Simulierter Noise Along-Track-Achse","10\u207b\u00b9\u2070 [m/s\u00b2]"],"values":[-4,-2,0,2,4],"labelExpr":"replace(datum.label,'\u2212','-')","tickSize":-12,"labelPadding":19,"grid":true,"titlePadding":12,"titleLineHeight":25,"labelOverlap":false}},
    "y2":{"field":"rhi"}}},
  {"data":{"name":"ts"},
   "mark":{"type":"rule","color":"#00cc00","strokeWidth":3,"clip":true},
   "encoding":{
    "x":{"field":"t","type":"quantitative","scale":{"domain":[0,24],"nice":false,"zero":false},"axis":null},
    "y":{"field":"glo","type":"quantitative","scale":{"domain":[-5,5],"nice":false,"zero":false},
     "axis":{"orient":"left","title":null,"values":[-4.5,-3.5,-3,-2.5,-1.5,-1,-0.5,0.5,1,1.5,2.5,3,3.5,4.5],"labels":false,"domain":false,"grid":false,"tickSize":-7}},
    "y2":{"field":"ghi"}}},
  {"data":{"values":[{}]},
   "mark":{"type":"rule","color":"black","strokeWidth":1},
   "encoding":{"x":{"datum":9.42,"axis":null},"y":{"datum":-3.08,"axis":null},"x2":{"datum":12.9},"y2":{"datum":-4.32}}},
  {"data":{"values":[{}]},
   "mark":{"type":"text","text":"Version 1","color":"#b40000","fontSize":21,"align":"left","baseline":"middle","font":"Liberation Sans"},
   "encoding":{"x":{"datum":13.74,"axis":null},"y":{"datum":3.54,"axis":null}}},
  {"data":{"values":[{}]},
   "mark":{"type":"text","text":"Version 2","color":"#2ecc2e","fontSize":21,"align":"left","baseline":"middle","font":"Liberation Sans"},
   "encoding":{"x":{"datum":17.39,"axis":null},"y":{"datum":-1.65,"axis":null}}},
  {"data":{"values":[{}]},
   "mark":{"type":"text","text":"Offset = -3*10\u207b\u00b9\u2070 [m/s\u00b2]","color":"black","fontSize":21,"align":"left","baseline":"middle","font":"Liberation Sans"},
   "encoding":{"x":{"datum":13.05,"axis":null},"y":{"datum":-4.42,"axis":null}}}
 ]
},
{
 "width":512,"height":466,
 "title":{"text":"(b)"},
 "resolve":{"axis":{"x":"independent","y":"independent"}},
 "layer":[
  {"data":{"name":"psdlow"},
   "mark":{"type":"line","color":"#d40000","strokeWidth":2,"clip":true},
   "encoding":{
    "x":{"field":"f","type":"quantitative","scale":{"type":"log","domain":[1e-5,0.1],"nice":false},
     "axis":{"orient":"bottom","title":"[Hz]","values":[1e-5,1e-4,1e-3,1e-2,1e-1],"labelExpr":"'10' + (round(log(datum.value)/LN10) == -5 ? '\u207b\u2075' : round(log(datum.value)/LN10) == -4 ? '\u207b\u2074' : round(log(datum.value)/LN10) == -3 ? '\u207b\u00b3' : round(log(datum.value)/LN10) == -2 ? '\u207b\u00b2' : '\u207b\u00b9')","tickSize":-12,"labelPadding":22,"labelFlush":false,"labelOverlap":false,"grid":false,"titlePadding":2}},
    "y":{"field":"r","type":"quantitative","scale":{"type":"log","domain":[2.5e-12,2e-8],"nice":false},
     "axis":{"orient":"left","title":"PSD Noise Along-Track, [m/s\u00b2/SQRT(Hz)]","values":[1e-11,1e-10,1e-9,1e-8],"labelExpr":"'10' + (round(log(datum.value)/LN10) == -8 ? '\u207b\u2078' : round(log(datum.value)/LN10) == -9 ? '\u207b\u2079' : round(log(datum.value)/LN10) == -10 ? '\u207b\u00b9\u2070' : '\u207b\u00b9\u00b9')","tickSize":-12,"labelPadding":19,"grid":true,"titlePadding":5,"labelOverlap":false}}}},
  {"data":{"name":"psddense"},
   "mark":{"type":"rule","color":"#d40000","strokeWidth":3.4,"clip":true},
   "encoding":{
    "x":{"field":"f","type":"quantitative","scale":{"type":"log","domain":[1e-5,0.1],"nice":false},"axis":null},
    "y":{"field":"rlo","type":"quantitative","scale":{"type":"log","domain":[2.5e-12,2e-8],"nice":false},"axis":null},
    "y2":{"field":"rhi"}}},
  {"data":{"name":"psdlow"},
   "mark":{"type":"line","color":"#00cc00","strokeWidth":2,"clip":true},
   "encoding":{
    "x":{"field":"f","type":"quantitative","scale":{"type":"log","domain":[1e-5,0.1],"nice":false},
     "axis":{"orient":"bottom","title":null,"values":[2e-5,3e-5,4e-5,5e-5,6e-5,7e-5,8e-5,9e-5,2e-4,3e-4,4e-4,5e-4,6e-4,7e-4,8e-4,9e-4,2e-3,3e-3,4e-3,5e-3,6e-3,7e-3,8e-3,9e-3,2e-2,3e-2,4e-2,5e-2,6e-2,7e-2,8e-2,9e-2],"labels":false,"domain":false,"grid":false,"tickSize":-7}},
    "y":{"field":"g","type":"quantitative","scale":{"type":"log","domain":[2.5e-12,2e-8],"nice":false},
     "axis":{"orient":"left","title":null,"values":[3e-12,4e-12,5e-12,6e-12,7e-12,8e-12,9e-12,2e-11,3e-11,4e-11,5e-11,6e-11,7e-11,8e-11,9e-11,2e-10,3e-10,4e-10,5e-10,6e-10,7e-10,8e-10,9e-10,2e-9,3e-9,4e-9,5e-9,6e-9,7e-9,8e-9,9e-9],"labels":false,"domain":false,"grid":false,"tickSize":-7}}}},
  {"data":{"name":"psddense"},
   "mark":{"type":"rule","color":"#00cc00","strokeWidth":3.4,"clip":true},
   "encoding":{
    "x":{"field":"f","type":"quantitative","scale":{"type":"log","domain":[1e-5,0.1],"nice":false},"axis":null},
    "y":{"field":"glo","type":"quantitative","scale":{"type":"log","domain":[2.5e-12,2e-8],"nice":false},"axis":null},
    "y2":{"field":"ghi"}}},
  {"data":{"name":"spec"},
   "mark":{"type":"line","color":"black","strokeWidth":2.5,"strokeDash":[9,3,2,3,2,3],"clip":true},
   "encoding":{
    "x":{"field":"f","type":"quantitative","scale":{"type":"log","domain":[1e-5,0.1],"nice":false},"axis":null},
    "y":{"field":"s","type":"quantitative","scale":{"type":"log","domain":[2.5e-12,2e-8],"nice":false},"axis":null}}},
  {"data":{"values":[{}]},
   "mark":{"type":"text","text":"Version 1","color":"#d40000","fontSize":21,"align":"left","baseline":"middle","font":"Liberation Sans"},
   "encoding":{"x":{"datum":1.24e-4,"axis":null},"y":{"datum":5.7e-9,"axis":null}}},
  {"data":{"values":[{}]},
   "mark":{"type":"text","text":"spez. PSD","color":"black","fontSize":21,"align":"left","baseline":"middle","font":"Liberation Sans"},
   "encoding":{"x":{"datum":1.36e-5,"axis":null},"y":{"datum":5.44e-10,"axis":null}}},
  {"data":{"values":[{}]},
   "mark":{"type":"text","text":"Version 2","color":"#2ecc2e","fontSize":21,"align":"left","baseline":"middle","font":"Liberation Sans"},
   "encoding":{"x":{"datum":1.38e-5,"axis":null},"y":{"datum":5.4e-11,"axis":null}}}
 ]
}
]
}
